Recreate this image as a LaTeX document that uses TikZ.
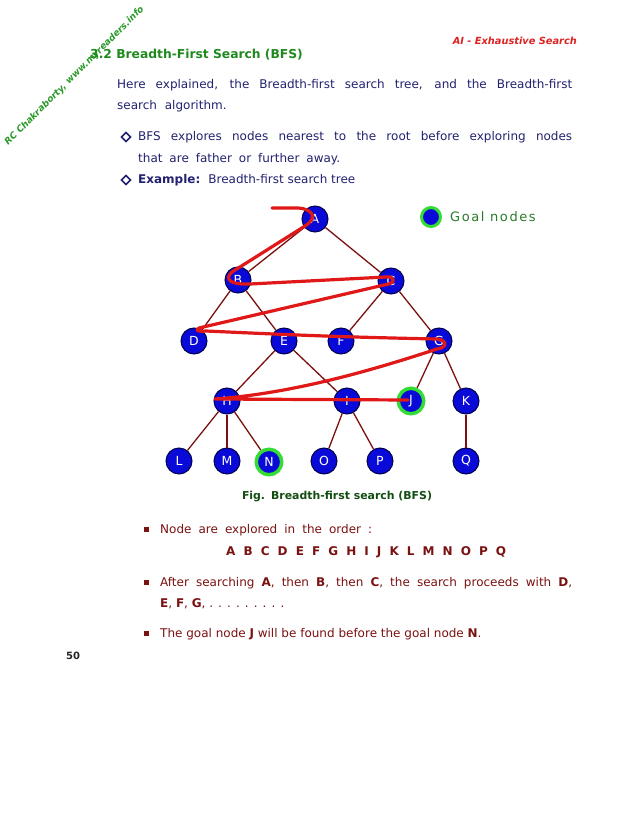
\documentclass[tikz,border=0pt]{standalone}
\usepackage{fontspec}
\setmainfont{DejaVu Sans}
\usetikzlibrary{calc}
\definecolor{nodeblue}{HTML}{0A0AD8}
\definecolor{edgecol}{HTML}{7A1010}
\definecolor{pathred}{HTML}{E01818}
\definecolor{goalgreen}{HTML}{33DD33}
\definecolor{navytext}{HTML}{222270}
\definecolor{darkred}{HTML}{7A1212}
\definecolor{headgreen}{HTML}{1E8A1E}
\definecolor{wmgreen}{HTML}{2A9A2A}
\definecolor{capgreen}{HTML}{124D12}
\definecolor{hdrred}{HTML}{DD2222}
\definecolor{legendgreen}{HTML}{2A7A2A}
\begin{document}
\begin{tikzpicture}[x=1pt,y=-1pt,
  tnode/.style={circle,fill=nodeblue,draw=black!70!blue,line width=1pt,minimum size=26pt,inner sep=0pt,text=white,font=\fontsize{12.5}{13}\selectfont},
  goal/.style={tnode,draw=goalgreen,line width=3.5pt,minimum size=25.5pt},
  edge/.style={draw=edgecol,line width=1.3pt},
  redpath/.style={draw=pathred,line width=3.2pt,line cap=round,line join=round},
  body/.style={anchor=base west,inner sep=0pt,font=\fontsize{12}{14}\selectfont},
  sqbullet/.style={fill=darkred,draw=none,minimum size=5pt,inner sep=0pt,rectangle}
]
\useasboundingbox[fill=white] (0,0) rectangle (638,826);

% watermark
\node[anchor=base west,inner sep=0pt,rotate=45,text=wmgreen,font=\fontsize{9.1}{11}\bfseries\itshape\selectfont] (wm) at (8,146) {RC Chakraborty, www.myreaders.info};

% header
\node[anchor=base east,inner sep=0pt,text=hdrred,font=\fontsize{9.8}{11}\bfseries\itshape\selectfont] (hdr) at (577,45) {AI - Exhaustive Search};
\node[anchor=base west,inner sep=0pt,text=headgreen,font=\fontsize{12.3}{14}\bfseries\selectfont] (head) at (90,59) {3.2 Breadth-First Search (BFS)};

\node[body,text=navytext] (p1) at (117,89) {\makebox[455pt][s]{Here explained, the Breadth-first search tree, and the Breadth-first}};
\node[body,text=navytext] (p2) at (117,110) {search\hspace{4pt} algorithm.};

\draw[navytext,line width=1.6pt] (126,132.5) -- (130.5,137) -- (126,141.5) -- (121.5,137) -- cycle;
\node[body,text=navytext] (b1) at (138,141) {\makebox[434pt][s]{BFS explores nodes nearest to the root before exploring nodes}};
\node[body,text=navytext] (b1b) at (138,163) {\makebox[202pt][s]{that are father or further away.}};
\draw[navytext,line width=1.6pt] (126,175.5) -- (130.5,180) -- (126,184.5) -- (121.5,180) -- cycle;
\node[body,text=navytext] (b2) at (138,184) {\textbf{Example:}\hspace{8pt}Breadth-first search tree};

% tree nodes
\node[tnode] (A) at (315,219) {A};
\node[tnode] (B) at (238,280) {B};
\node[tnode] (C) at (391,281) {C};
\node[tnode] (D) at (194,341) {D};
\node[tnode] (E) at (284,341) {E};
\node[tnode] (F) at (341,341) {F};
\node[tnode] (G) at (439,341) {G};
\node[tnode] (H) at (227,401) {H};
\node[tnode] (I) at (347,401) {I};
\node[goal]  (J) at (411,401) {J};
\node[tnode] (K) at (466,401) {K};
\node[tnode] (L) at (179,461) {L};
\node[tnode] (M) at (227,461) {M};
\node[goal]  (N) at (269,462) {N};
\node[tnode] (O) at (324,461) {O};
\node[tnode] (P) at (380,461) {P};
\node[tnode] (Q) at (466,461) {Q};

\foreach \a/\b in {A/B,A/C,B/D,B/E,C/F,C/G,E/H,E/I,G/J,G/K,H/L,H/M,H/N,I/O,I/P,K/Q}
  \draw[edge] (\a) -- (\b);

% legend
\node[goal,minimum size=19pt,line width=3pt] (leg) at (431,217) {};
\node[anchor=west,inner sep=0pt,text=legendgreen,font=\fontsize{13}{14}\selectfont\addfontfeatures{LetterSpace=12}] (legt) at ([xshift=8pt]leg.east) {Goal nodes};

% red traversal path
\draw[redpath]
  ($(A)+(-43,-11)$) -- ($(A)+(-17,-11)$)
  .. controls ($(A)+(-2,-10)$) and ($(A)+(3,-1)$) .. ($(A)+(-10,7)$)
  -- ($(B)+(-6,-8)$)
  .. controls ($(B)+(-14,-1)$) and ($(B)+(-8,5)$) .. ($(B)+(12,4)$)
  -- ($(C)+(-5,-4)$)
  .. controls ($(C)+(5,-5)$) and ($(C)+(5,3)$) .. ($(C)+(-7,4)$)
  -- ($(D)+(5,-13)$)
  .. controls ($(D)+(1,-11)$) and ($(D)+(3,-9)$) .. ($(D)+(12,-10)$)
  .. controls ($(D)+(100,-6)$) and ($(G)+(-100,-4)$) .. ($(G)+(-2,-2)$)
  .. controls ($(G)+(9,-1)$) and ($(G)+(8,7)$) .. ($(G)+(-2,8)$)
  .. controls ($(G)+(-60,27)$) and ($(H)+(70,-8)$) .. ($(H)+(-12,-2)$)
  -- ($(J)+(-3,-1)$);

% caption
\node[anchor=base,inner sep=0pt,text=capgreen,font=\fontsize{10.9}{12}\bfseries\selectfont] (cap) at (337,499) {Fig.\hspace{6pt}Breadth-first search (BFS)};

% bullets lower
\node[sqbullet] (s1) at (146,529) {};
\node[body,text=darkred] (t1) at (160,533) {\makebox[212pt][s]{Node are explored in the order :}};
\node[body,text=darkred] (t2) at (226,555) {\makebox[280pt][s]{\bfseries A B C D E F G H I J K L M N O P Q}};
\node[sqbullet] (s2) at (146,582) {};
\node[body,text=darkred] (t3) at (160,586) {\makebox[412pt][s]{After searching \textbf{A}, then \textbf{B}, then \textbf{C}, the search proceeds with \textbf{D},}};
\node[body,text=darkred] (t4) at (160,607) {\textbf{E}, \textbf{F}, \textbf{G}, . . . . . . . . .};
\node[sqbullet] (s3) at (146,633) {};
\node[body,text=darkred] (t5) at (160,637) {The goal node \textbf{J} will be found before the goal node \textbf{N}.};

\node[anchor=base west,inner sep=0pt,text=black!85,font=\fontsize{10}{11}\bfseries\selectfont] (pg) at (66,659) {50};
\end{tikzpicture}
\end{document}
